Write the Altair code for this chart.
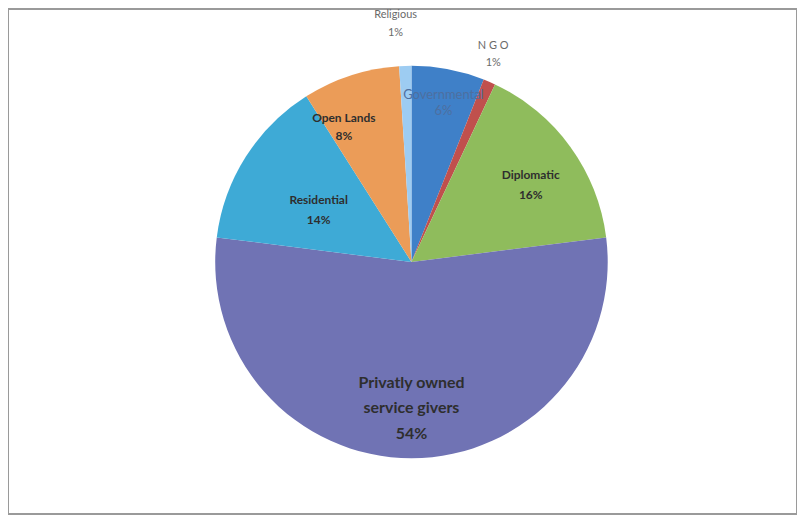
import altair as alt
import pandas as pd

categories = ["Governmental", "N G O", "Diplomatic", "Privatly owned service givers",
              "Residential", "Open Lands", "Religious"]
values = [6, 1, 16, 54, 14, 8, 1]
labels = ["Governmental\n6%", "N G O\n1%", "Diplomatic\n16%",
          "Privatly owned\nservice givers\n54%", "Residential\n14%",
          "Open Lands\n8%", "Religious\n1%"]
colors = ["#3f80c8", "#c0504d", "#8fbc5c", "#7073b4", "#3eaad6", "#eb9c58", "#9dccf2"]

df = pd.DataFrame({"category": categories, "value": values, "label": labels,
                   "order": list(range(len(categories)))})

W, H = 792, 507
cx, cy = 405, 254
theta_scale = alt.Scale(domain=[0, 100], range=[0, 6.283185307])

pie = alt.Chart(df).mark_arc(outerRadius=197, stroke=None).encode(
    theta=alt.Theta("value:Q", stack=True),
    order=alt.Order("order:Q"),
    color=alt.Color("category:N", scale=alt.Scale(domain=categories, range=colors), legend=None),
    x=alt.value(cx), y=alt.value(cy),
)

text_base = alt.Chart(df).transform_window(
    cum="sum(value)", sort=[alt.SortField("order")], frame=[None, 0]
).transform_calculate(mid="datum.cum - datum.value / 2")


def label_layer(cats, radius, size, color, bold=True, dtheta=0.0, lh=None):
    return text_base.transform_filter(
        alt.FieldOneOfPredicate(field="category", oneOf=cats)
    ).mark_text(
        radius=radius, lineBreak="\n", font="Lato",
        fontSize=size, fontWeight="bold" if bold else "normal",
        color=color, align="center", baseline="middle",
        lineHeight=lh if lh else size + 7,
        thetaOffset=dtheta,
    ).encode(
        theta=alt.Theta("mid:Q", scale=theta_scale),
        text="label:N", x=alt.value(cx), y=alt.value(cy),
    )


layers = [
    pie,
    label_layer(["Diplomatic"], 148, 12, "#2e2e2e", lh=20),
    label_layer(["Open Lands"], 160, 12, "#2e2e2e", dtheta=-0.124, lh=18),
    label_layer(["Residential"], 112, 12, "#2e2e2e", dtheta=0.023, lh=20),
    label_layer(["Privatly owned service givers"], 121, 16, "#2e2e2e", lh=26),
    label_layer(["Governmental"], 171, 13, "#4d6fa0", bold=False, lh=16),
    label_layer(["Religious"], 248, 11, "#6a6a6a", bold=False, dtheta=-0.033, lh=18),
    label_layer(["N G O"], 232, 11, "#6a6a6a", bold=False, dtheta=-0.047, lh=17),
]

chart = alt.layer(*layers).properties(
    width=W, height=H, padding=0, autosize=alt.AutoSizeParams(type="none"),
    background="white",
).configure_view(stroke="#9a9a9a", strokeWidth=2)

chart.save("out.html", embed_options={"renderer": "svg", "actions": False})
